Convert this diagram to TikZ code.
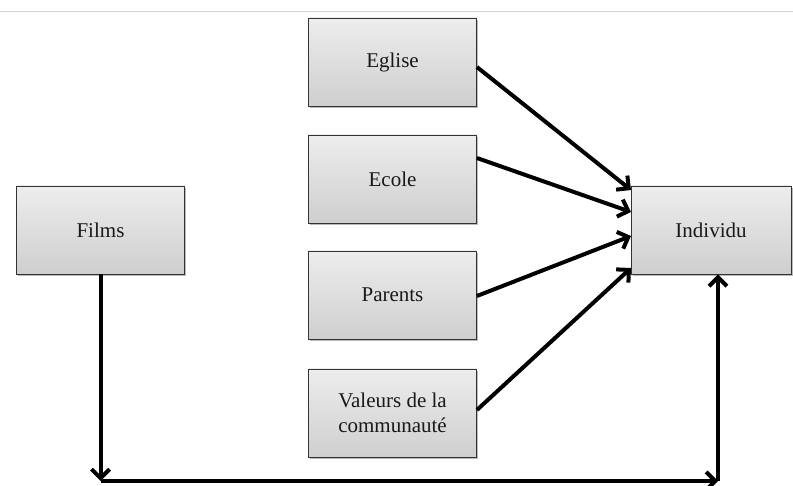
\documentclass[tikz,border=0pt]{standalone}
\usepackage{fontspec}
\setmainfont{Liberation Serif}
\usetikzlibrary{arrows.meta,shadows}
\tikzset{
  box/.style={draw=black!80, line width=0.8pt, top color=gray!14, bottom color=gray!38,
    minimum width=168pt, minimum height=88pt, inner sep=0pt, align=center,
    font=\fontsize{21}{25}\selectfont, text=black!90,
    drop shadow={shadow xshift=1.5pt, shadow yshift=-2pt, opacity=0.45, fill=black!60}},
  conn/.style={line width=4pt, -{Straight Barb[length=9pt,width=18pt,line width=4pt]}},
}
\begin{document}
\begin{tikzpicture}[x=1pt,y=-1pt]
\useasboundingbox (0,0) rectangle (793,486);
\draw[color={rgb,255:red,200;green,212;blue,224}, line width=1pt] (0,12) -- (793,12);
\node[box] (eglise)  at (392.5,62)  {Eglise};
\node[box] (ecole)   at (392.5,179) {Ecole};
\node[box] (parents) at (392.5,295) {Parents};
\node[box] (valeurs) at (392.5,413) {Valeurs de la\\communauté};
\node[box] (films)   at (100.5,230) {Films};
\node[box, minimum width=160pt] (indiv) at (711,230) {Individu};
\coordinate (eglTo) at (631,190);
\coordinate (ecoTo) at (631,212);
\coordinate (parTo) at (631,236);
\coordinate (valTo) at (631,268);
\draw[conn] (eglise.east |- 0,67) -- (eglTo);
\draw[conn] (ecole.east |- 0,158) -- (ecoTo);
\draw[conn] (parents.east |- 0,296) -- (parTo);
\draw[conn] (valeurs.east |- 0,410) -- (valTo);
\coordinate (c1) at (films.south |- 0,481);
\coordinate (c2) at (718,481);
\coordinate (indBot) at (indiv.south -| c2);
\draw[conn] (films.south) -- (c1);
\draw[conn] (c1) -- (c2);
\draw[conn] (c2) -- (indBot);
\end{tikzpicture}
\end{document}
